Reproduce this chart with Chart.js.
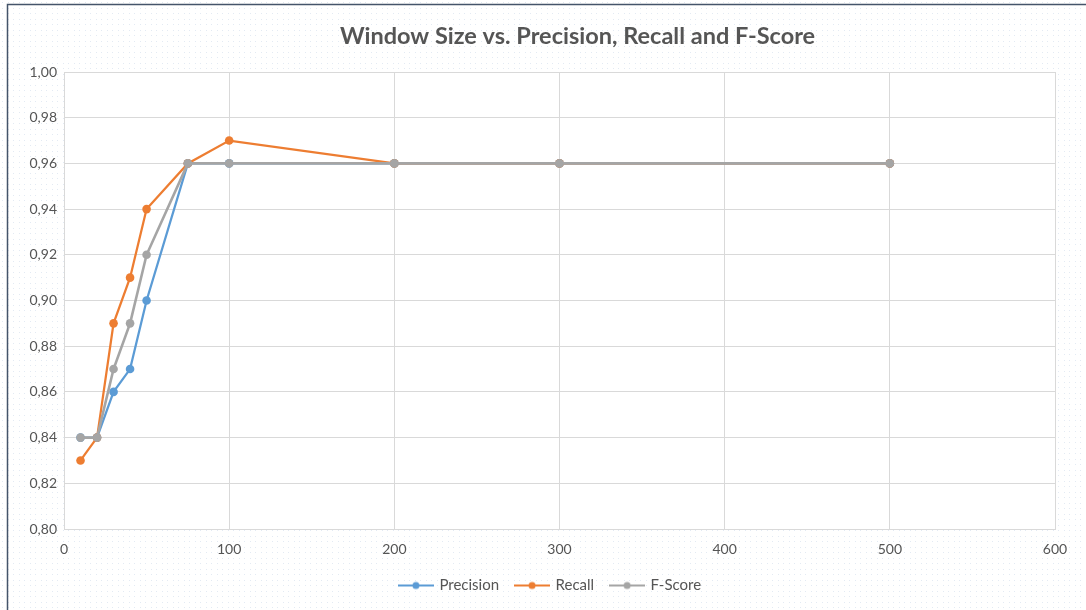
<!DOCTYPE html>
<html>
<head>
<meta charset="utf-8">
<script src="https://cdn.jsdelivr.net/npm/chart.js@4.4.1/dist/chart.umd.min.js"></script>
<style>
html,body{margin:0;padding:0;background:#fff;}
#wrap{position:relative;width:1086px;height:610px;}
</style>
</head>
<body>
<div id="wrap"><canvas id="c" width="1086" height="610"></canvas></div>
<script>
const windowSizes = [10, 20, 30, 40, 50, 75, 100, 200, 300, 500];
const precision = [0.84, 0.84, 0.86, 0.87, 0.90, 0.96, 0.96, 0.96, 0.96, 0.96];
const recall    = [0.83, 0.84, 0.89, 0.91, 0.94, 0.96, 0.97, 0.96, 0.96, 0.96];
const fScore    = [0.84, 0.84, 0.87, 0.89, 0.92, 0.96, 0.96, 0.96, 0.96, 0.96];
const seriesNames = ['Precision', 'Recall', 'F-Score'];
const titleText = 'Window Size vs. Precision, Recall and F-Score';

const colors = ['#5b9bd5', '#ed7d31', '#a5a5a5'];
const FONT = 'Lato, "Open Sans", sans-serif';
const TXT = '#555555';

function pts(vals){ return windowSizes.map((x,i)=>({x:x,y:vals[i]})); }

function legendIcon(color){
  const cv = document.createElement('canvas');
  cv.width = 36; cv.height = 10;
  const g = cv.getContext('2d');
  g.strokeStyle = color; g.lineWidth = 2;
  g.beginPath(); g.moveTo(0,5); g.lineTo(36,5); g.stroke();
  g.fillStyle = color;
  g.beginPath(); g.arc(18,5,3.5,0,Math.PI*2); g.fill();
  return cv;
}

const bgPlugin = {
  id: 'bg',
  afterLayout(chart){
    if (chart.titleBlock) { chart.titleBlock.left += 50; chart.titleBlock.right += 50; }
    if (chart.legend) { chart.legend.left += 23; chart.legend.right += 23; }
  },
  beforeDraw(chart){
    const ctx = chart.ctx, W = chart.width, H = chart.height;
    ctx.save();
    ctx.fillStyle = '#ffffff';
    ctx.fillRect(0,0,W,H);
    ctx.fillStyle = '#e3eaf3';
    for(let y=2; y<H; y+=5.5){
      for(let x=2; x<W; x+=5.5){
        ctx.fillRect(Math.round(x), Math.round(y), 1, 1);
      }
    }
    const a = chart.chartArea;
    ctx.fillStyle = '#ffffff';
    ctx.fillRect(a.left, a.top, a.right-a.left, a.bottom-a.top);
    ctx.strokeStyle = '#44546a';
    ctx.lineWidth = 1.5;
    ctx.beginPath();
    ctx.moveTo(7.5, H+2); ctx.lineTo(7.5, 4.5); ctx.lineTo(W+2, 4.5);
    ctx.stroke();
    ctx.restore();
  }
};

const datasets = [precision, recall, fScore].map((vals,i)=>({
  label: seriesNames[i],
  data: pts(vals),
  borderColor: colors[i],
  backgroundColor: colors[i],
  borderWidth: i === 2 ? 2.6 : 2.25,
  pointRadius: 4.3,
  pointHoverRadius: 4.3,
  pointBorderWidth: 0,
  pointStyle: 'circle',
  tension: 0,
  order: 2 - i
}));

new Chart(document.getElementById('c'), {
  type: 'line',
  data: { datasets },
  plugins: [bgPlugin],
  options: {
    responsive: false,
    animation: false,
    devicePixelRatio: 1,
    layout: { padding: { left: 0, right: 31, top: 0, bottom: 7 } },
    plugins: {
      tooltip: { enabled: false },
      title: {
        display: true,
        text: titleText,
        color: TXT,
        font: { family: FONT, size: 23.5, weight: 'bold' },
        padding: { top: 22, bottom: 21.8 }
      },
      legend: {
        position: 'bottom',
        labels: {
          color: TXT,
          font: { family: FONT, size: 15 },
          usePointStyle: true,
          pointStyleWidth: 32,
          boxWidth: 32, boxHeight: 10,
          padding: 17,
          sort: (a,b)=>a.datasetIndex-b.datasetIndex,
          generateLabels(chart){
            return chart.data.datasets.map((d,i)=>({
              text: d.label,
              fillStyle: colors[i],
              strokeStyle: colors[i],
              lineWidth: 0,
              pointStyle: legendIcon(colors[i]),
              datasetIndex: i,
              fontColor: TXT,
              hidden: false
            }));
          }
        }
      }
    },
    scales: {
      x: {
        type: 'linear',
        min: 0, max: 600,
        ticks: { stepSize: 100, color: TXT, font: { family: FONT, size: 14 }, padding: 12 },
        grid: { color: '#d9d9d9', lineWidth: 1, drawTicks: false },
        border: { color: '#d9d9d9' },
        afterFit(s){ s.height = 32; }
      },
      y: {
        min: 0.80, max: 1.00,
        ticks: {
          stepSize: 0.02, color: TXT, font: { family: FONT, size: 14 }, padding: 7,
          callback: v => v.toFixed(2).replace('.', ',')
        },
        grid: { color: '#d9d9d9', lineWidth: 1, drawTicks: false },
        border: { color: '#d9d9d9' },
        afterFit(s){ s.width = 64; }
      }
    }
  }
});
</script>
</body>
</html>
